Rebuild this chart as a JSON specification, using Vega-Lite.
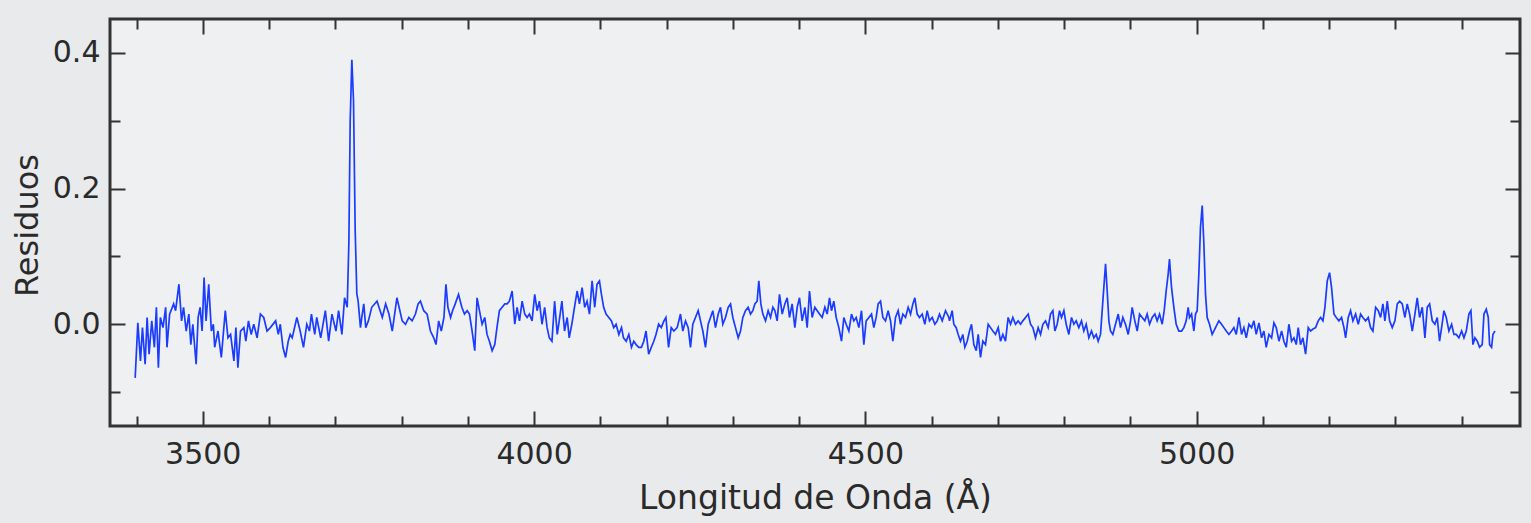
{
"$schema": "https://vega.github.io/schema/vega-lite/v6.json",
"width": 1410, "height": 407,
"autosize": {"type": "none"},
"padding": {"left": 110, "top": 19, "right": 11, "bottom": 97},
"background": "#e9eaec",
"config": {
  "view": {"fill": "#eff0f2", "stroke": "#333333", "strokeWidth": 3},
  "axis": {"grid": false, "domain": false, "labelFont": "DejaVu Sans", "titleFont": "DejaVu Sans", "labelColor": "#2a2a2a", "titleColor": "#2a2a2a", "tickColor": "#333333", "tickWidth": 2, "labelFlush": false, "labelOverlap": false}
},
"datasets": {
"a": [{"w": 4000, "r": 0}],
"s": [
{"w":3398,"r":-0.079},{"w":3402,"r":0.002},{"w":3406,"r":-0.054},{"w":3409,"r":-0.005},{"w":3413,"r":-0.059},{"w":3416,"r":0.010},{"w":3419,"r":-0.044},{"w":3423,"r":0.005},{"w":3427,"r":-0.034},{"w":3430,"r":0.025},{"w":3433,"r":-0.064},{"w":3436,"r":0.010},{"w":3440,"r":-0.005},{"w":3444,"r":0.025},{"w":3446,"r":-0.034},{"w":3450,"r":0.015},{"w":3456,"r":0.030},{"w":3459,"r":0.020},{"w":3464,"r":0.059},{"w":3468,"r":0.005},{"w":3471,"r":0.025},{"w":3475,"r":-0.010},{"w":3479,"r":0.015},{"w":3482,"r":-0.030},{"w":3485,"r":0.000},{"w":3490,"r":-0.059},{"w":3493,"r":0.010},{"w":3496,"r":0.025},{"w":3499,"r":-0.010},{"w":3502,"r":0.069},{"w":3505,"r":0.005},{"w":3509,"r":0.059},{"w":3513,"r":-0.010},{"w":3516,"r":0.000},{"w":3518,"r":-0.034},{"w":3523,"r":-0.010},{"w":3528,"r":-0.049},{"w":3534,"r":0.020},{"w":3538,"r":-0.020},{"w":3542,"r":-0.015},{"w":3547,"r":-0.054},{"w":3550,"r":-0.005},{"w":3553,"r":-0.064},{"w":3557,"r":-0.010},{"w":3562,"r":-0.005},{"w":3565,"r":-0.025},{"w":3569,"r":0.005},{"w":3573,"r":-0.015},{"w":3577,"r":0.000},{"w":3582,"r":-0.020},{"w":3587,"r":0.015},{"w":3592,"r":0.010},{"w":3597,"r":-0.010},{"w":3602,"r":-0.005},{"w":3610,"r":0.005},{"w":3614,"r":-0.015},{"w":3617,"r":0.000},{"w":3621,"r":-0.034},{"w":3625,"r":-0.049},{"w":3629,"r":-0.025},{"w":3632,"r":-0.015},{"w":3635,"r":-0.020},{"w":3642,"r":0.010},{"w":3647,"r":-0.010},{"w":3652,"r":-0.034},{"w":3657,"r":0.000},{"w":3661,"r":-0.010},{"w":3664,"r":0.015},{"w":3669,"r":-0.015},{"w":3672,"r":0.010},{"w":3678,"r":-0.020},{"w":3685,"r":0.020},{"w":3690,"r":-0.025},{"w":3695,"r":0.015},{"w":3701,"r":-0.010},{"w":3705,"r":0.020},{"w":3710,"r":-0.015},{"w":3714,"r":0.039},{"w":3718,"r":0.025},{"w":3720.5,"r":0.12},{"w":3722.5,"r":0.30},{"w":3725,"r":0.39},{"w":3727.5,"r":0.33},{"w":3730,"r":0.14},{"w":3732.5,"r":0.045},{"w":3734.5,"r":0.034},{"w":3738,"r":-0.005},{"w":3740,"r":0.010},{"w":3743,"r":0.030},{"w":3746,"r":-0.005},{"w":3750,"r":0.005},{"w":3755,"r":0.025},{"w":3763,"r":0.034},{"w":3771,"r":0.010},{"w":3776,"r":0.030},{"w":3781,"r":0.015},{"w":3786,"r":-0.010},{"w":3793,"r":0.039},
{"w":3801,"r":0.005},{"w":3806,"r":0.000},{"w":3811,"r":0.010},{"w":3816,"r":0.005},{"w":3821,"r":0.015},{"w":3825,"r":0.030},{"w":3828.5,"r":0.034},{"w":3833.5,"r":0.020},{"w":3838.6,"r":0.015},{"w":3843.6,"r":-0.010},{"w":3848.6,"r":-0.020},{"w":3852,"r":-0.030},{"w":3856,"r":0.005},{"w":3860,"r":-0.010},{"w":3864,"r":0.010},{"w":3867,"r":0.059},{"w":3870,"r":0.025},{"w":3874,"r":0.010},{"w":3877,"r":0.020},{"w":3881,"r":0.030},{"w":3886,"r":0.044},{"w":3891,"r":0.025},{"w":3895,"r":0.015},{"w":3899,"r":0.020},{"w":3902.5,"r":0.015},{"w":3906.5,"r":-0.010},{"w":3910.5,"r":-0.039},{"w":3914,"r":0.039},{"w":3917.6,"r":0.020},{"w":3921.6,"r":0.000},{"w":3925.6,"r":0.010},{"w":3929,"r":-0.015},{"w":3932.6,"r":-0.025},{"w":3936.7,"r":-0.039},{"w":3940.7,"r":-0.030},{"w":3944,"r":-0.005},{"w":3947.7,"r":0.020},{"w":3951.8,"r":0.025},{"w":3955.8,"r":0.030},{"w":3959.3,"r":0.030},{"w":3962.8,"r":0.034},{"w":3966.9,"r":0.049},{"w":3970.9,"r":0.000},{"w":3974.4,"r":0.025},{"w":3978,"r":0.005},{"w":3982,"r":0.034},{"w":3986,"r":0.015},{"w":3989.5,"r":0.010},{"w":3993,"r":0.015},{"w":3997,"r":0.005},{"w":4001,"r":0.044},{"w":4004.6,"r":0.020},{"w":4008,"r":0.034},{"w":4012,"r":0.000},{"w":4016,"r":0.025},{"w":4019.7,"r":-0.005},{"w":4023,"r":-0.020},{"w":4027,"r":-0.025},{"w":4031,"r":0.034},{"w":4035,"r":-0.015},{"w":4038,"r":0.005},{"w":4042,"r":0.034},{"w":4046,"r":-0.010},{"w":4050,"r":0.010},{"w":4053,"r":-0.020},{"w":4057,"r":0.000},{"w":4061,"r":0.025},{"w":4065,"r":0.049},{"w":4068.5,"r":0.030},{"w":4072.5,"r":0.054},{"w":4076.5,"r":0.025},{"w":4080,"r":0.034},{"w":4083.6,"r":0.015},{"w":4087.6,"r":0.064},{"w":4091.6,"r":0.025},{"w":4095,"r":0.059},{"w":4098.7,"r":0.064},{"w":4101.7,"r":0.044},{"w":4105,"r":0.025},{"w":4108.7,"r":0.015},{"w":4112.8,"r":0.010},{"w":4116.8,"r":0.005},{"w":4120.3,"r":-0.005},{"w":4123.8,"r":0.000},{"w":4128,"r":-0.015},{"w":4132,"r":-0.005},{"w":4135,"r":-0.020},{"w":4139,"r":-0.025},{"w":4143,"r":-0.015},{"w":4147,"r":-0.034},{"w":4150.5,"r":-0.025},{"w":4154,"r":-0.030},{"w":4158,"r":-0.034},{"w":4162,"r":-0.034},{"w":4165.6,"r":-0.025},{"w":4169,"r":-0.010},{"w":4173,"r":-0.044},{"w":4177,"r":-0.034},{"w":4180.7,"r":-0.025},{"w":4184,"r":-0.015},{"w":4188,"r":0.000},{"w":4192,"r":-0.005},{"w":4196,"r":0.005},{"w":4199,"r":0.010},{"w":4203,"r":-0.034},{"w":4207,"r":-0.005},{"w":4211,"r":-0.010},{"w":4216,"r":-0.005},
{"w":4221,"r":0.015},{"w":4224.5,"r":-0.010},{"w":4228.6,"r":0.005},{"w":4232.6,"r":-0.005},{"w":4236.1,"r":-0.034},{"w":4239.6,"r":0.000},{"w":4243.6,"r":0.010},{"w":4247.7,"r":0.020},{"w":4251.2,"r":0.005},{"w":4254.7,"r":-0.010},{"w":4258.7,"r":-0.034},{"w":4262.8,"r":0.000},{"w":4266.3,"r":0.010},{"w":4269.8,"r":0.020},{"w":4273.8,"r":-0.005},{"w":4277.9,"r":0.015},{"w":4281.4,"r":0.025},{"w":4284.9,"r":0.000},{"w":4288.9,"r":0.010},{"w":4293,"r":0.025},{"w":4296.5,"r":0.030},{"w":4300,"r":0.010},{"w":4304,"r":-0.005},{"w":4308.1,"r":-0.020},{"w":4311.6,"r":-0.010},{"w":4315.1,"r":0.010},{"w":4319.1,"r":0.020},{"w":4323.1,"r":0.025},{"w":4326.7,"r":0.015},{"w":4330.2,"r":0.020},{"w":4333.2,"r":0.030},{"w":4336.7,"r":0.034},{"w":4339.2,"r":0.064},{"w":4342.3,"r":0.030},{"w":4345.3,"r":0.015},{"w":4349.3,"r":0.005},{"w":4353.3,"r":0.020},{"w":4356.9,"r":0.010},{"w":4360.4,"r":0.025},{"w":4363.4,"r":0.020},{"w":4366.9,"r":0.005},{"w":4370.4,"r":0.044},{"w":4374.5,"r":0.015},{"w":4378.5,"r":0.030},{"w":4382,"r":0.039},{"w":4385.5,"r":0.010},{"w":4389.5,"r":0.030},{"w":4393.6,"r":-0.005},{"w":4397.1,"r":0.025},{"w":4400.6,"r":0.039},{"w":4404.6,"r":0.005},{"w":4408.7,"r":0.025},{"w":4412.2,"r":-0.005},{"w":4415.7,"r":0.049},{"w":4419.7,"r":0.010},{"w":4423.8,"r":0.025},{"w":4427.3,"r":0.020},{"w":4430.8,"r":0.015},{"w":4434.8,"r":0.010},{"w":4438.9,"r":0.025},{"w":4442.4,"r":0.015},{"w":4445.9,"r":0.039},{"w":4448.9,"r":0.020},{"w":4452.4,"r":0.034},{"w":4456,"r":0.010},{"w":4460,"r":-0.005},{"w":4464,"r":-0.025},{"w":4467.5,"r":0.010},{"w":4471,"r":0.000},{"w":4475.1,"r":-0.010},{"w":4479.1,"r":0.015},{"w":4482.6,"r":0.005},{"w":4486.1,"r":0.010},{"w":4490.2,"r":-0.005},{"w":4494.2,"r":0.020},{"w":4497.7,"r":-0.030},{"w":4501.2,"r":0.005},{"w":4505.3,"r":0.010},{"w":4509.3,"r":0.015},{"w":4512.8,"r":-0.005},{"w":4516.3,"r":0.010},{"w":4519.3,"r":0.030},{"w":4522.9,"r":0.034},{"w":4526.4,"r":0.010},{"w":4530.4,"r":0.005},{"w":4534.4,"r":0.020},{"w":4538,"r":0.005},{"w":4541.5,"r":-0.025},{"w":4545.5,"r":0.010},{"w":4549.5,"r":0.020},{"w":4553.1,"r":0.000},{"w":4556.6,"r":0.015},{"w":4560.6,"r":0.010},{"w":4564.6,"r":0.025},{"w":4568.2,"r":0.015},{"w":4571.7,"r":0.030},{"w":4574.7,"r":0.039},{"w":4578.2,"r":0.015},{"w":4581.7,"r":0.010},{"w":4585.8,"r":0.015},{"w":4589.8,"r":0.000},{"w":4593.3,"r":0.020},{"w":4596.8,"r":0.005},{"w":4600.9,"r":0.010},{"w":4604.9,"r":0.000},{"w":4608.4,"r":0.005},{"w":4611.9,"r":0.015},{"w":4616,"r":0.005},{"w":4621,"r":0.020},{"w":4626,"r":0.010},
{"w":4627,"r":0.005},{"w":4631,"r":0.020},{"w":4633.5,"r":0.000},{"w":4637.1,"r":-0.005},{"w":4640.1,"r":-0.015},{"w":4643.6,"r":-0.025},{"w":4647.1,"r":-0.015},{"w":4650.1,"r":-0.034},{"w":4653.7,"r":-0.025},{"w":4657.2,"r":-0.010},{"w":4660.2,"r":0.000},{"w":4663.7,"r":-0.030},{"w":4667.3,"r":-0.039},{"w":4670.3,"r":-0.015},{"w":4673.8,"r":-0.049},{"w":4677.3,"r":-0.025},{"w":4681.3,"r":-0.030},{"w":4685.4,"r":0.000},{"w":4688.9,"r":-0.005},{"w":4692.4,"r":-0.010},{"w":4696.4,"r":-0.015},{"w":4700.5,"r":-0.005},{"w":4704,"r":-0.025},{"w":4707.5,"r":-0.015},{"w":4711.5,"r":-0.025},{"w":4715.5,"r":0.010},{"w":4719.1,"r":0.000},{"w":4722.6,"r":0.010},{"w":4726.6,"r":0.000},{"w":4730.6,"r":0.005},{"w":4734.2,"r":0.000},{"w":4737.7,"r":0.005},{"w":4741.7,"r":0.010},{"w":4745.7,"r":0.015},{"w":4749.3,"r":0.000},{"w":4752.8,"r":-0.005},{"w":4756.8,"r":-0.020},{"w":4760.8,"r":-0.005},{"w":4764.4,"r":-0.015},{"w":4767.9,"r":0.000},{"w":4771.9,"r":0.005},{"w":4775.9,"r":-0.005},{"w":4779.4,"r":0.015},{"w":4783,"r":0.020},{"w":4786,"r":-0.010},{"w":4789.5,"r":0.000},{"w":4793,"r":0.020},{"w":4796,"r":0.010},{"w":4799.6,"r":0.020},{"w":4803.1,"r":0.000},{"w":4807.1,"r":-0.015},{"w":4811.1,"r":0.010},{"w":4814.7,"r":0.000},{"w":4818.2,"r":0.005},{"w":4822.2,"r":-0.005},{"w":4826.2,"r":0.005},{"w":4829.7,"r":-0.010},{"w":4833.3,"r":0.000},{"w":4837.3,"r":-0.020},{"w":4841.3,"r":-0.010},{"w":4844.8,"r":-0.020},{"w":4848.4,"r":-0.015},{"w":4851.4,"r":-0.025},{"w":4854.9,"r":-0.015},{"w":4857.4,"r":0.020},{"w":4859.9,"r":0.054},{"w":4862.5,"r":0.089},{"w":4865,"r":0.049},{"w":4867.5,"r":0.005},{"w":4870,"r":-0.010},{"w":4873.5,"r":-0.015},{"w":4877.5,"r":0.000},{"w":4881.6,"r":0.015},{"w":4885.1,"r":-0.005},{"w":4888.6,"r":0.010},{"w":4892.6,"r":0.000},{"w":4896.7,"r":-0.015},{"w":4900.2,"r":0.005},{"w":4902.7,"r":0.025},{"w":4906.7,"r":0.005},{"w":4910.3,"r":-0.010},{"w":4913.8,"r":0.015},{"w":4917.8,"r":0.010},{"w":4921.8,"r":0.005},{"w":4925.3,"r":0.015},{"w":4928.9,"r":0.000},{"w":4932.9,"r":0.010},{"w":4936.9,"r":0.015},{"w":4940.4,"r":0.005},{"w":4944,"r":0.015},{"w":4948,"r":0.000},{"w":4951,"r":0.020},{"w":4954,"r":0.049},{"w":4957,"r":0.074},{"w":4959,"r":0.096},{"w":4962.1,"r":0.054},{"w":4965.6,"r":0.025},{"w":4969.1,"r":0.000},{"w":4973.1,"r":-0.010},{"w":4977.2,"r":-0.010},{"w":4980.7,"r":-0.005},{"w":4984.2,"r":0.005},{"w":4987.2,"r":0.025},{"w":4989.2,"r":0.010},{"w":4992.3,"r":0.015},{"w":4995.8,"r":-0.010},{"w":4998.3,"r":0.015},{"w":5000.8,"r":0.020},{"w":5003.3,"r":0.074},{"w":5005.8,"r":0.143},{"w":5008.4,"r":0.175},{"w":5010.9,"r":0.118},{"w":5013.4,"r":0.044},{"w":5015.9,"r":0.010},{"w":5019.4,"r":0.000},{"w":5023.4,"r":-0.015},{"w":5028.5,"r":-0.005},{"w":5033.5,"r":0.005},
{"w":5037.6,"r":0.000},{"w":5041.1,"r":-0.005},{"w":5044.7,"r":-0.010},{"w":5048.7,"r":-0.015},{"w":5052.7,"r":-0.010},{"w":5056.2,"r":-0.005},{"w":5059.8,"r":-0.015},{"w":5063.8,"r":0.010},{"w":5067.8,"r":-0.015},{"w":5071.3,"r":-0.005},{"w":5074.9,"r":-0.020},{"w":5078.9,"r":0.000},{"w":5082.9,"r":-0.005},{"w":5086.4,"r":0.005},{"w":5089.9,"r":-0.015},{"w":5094,"r":0.002},{"w":5098,"r":-0.020},{"w":5101.5,"r":-0.010},{"w":5105,"r":-0.034},{"w":5109.1,"r":-0.015},{"w":5113.1,"r":-0.020},{"w":5116.6,"r":0.002},{"w":5120.1,"r":-0.005},{"w":5124.2,"r":-0.025},{"w":5128.2,"r":-0.010},{"w":5131.7,"r":-0.025},{"w":5135.2,"r":-0.034},{"w":5139.2,"r":0.000},{"w":5143.3,"r":-0.025},{"w":5146.8,"r":-0.020},{"w":5150.3,"r":-0.030},{"w":5153.3,"r":-0.005},{"w":5156.8,"r":-0.030},{"w":5160.4,"r":-0.020},{"w":5164.4,"r":-0.044},{"w":5168.4,"r":-0.005},{"w":5172,"r":-0.010},{"w":5175.5,"r":-0.007},{"w":5179.5,"r":-0.005},{"w":5183.5,"r":0.005},{"w":5187,"r":0.010},{"w":5190.6,"r":0.005},{"w":5193.6,"r":0.025},{"w":5197.1,"r":0.064},{"w":5200.6,"r":0.076},{"w":5203.6,"r":0.054},{"w":5207.2,"r":0.015},{"w":5210.7,"r":0.010},{"w":5214.7,"r":0.005},{"w":5218.7,"r":0.010},{"w":5222.3,"r":-0.005},{"w":5224.8,"r":-0.020},{"w":5228.8,"r":0.010},{"w":5232.3,"r":0.020},{"w":5235.8,"r":0.005},{"w":5239.9,"r":0.015},{"w":5243.9,"r":0.000},{"w":5247.4,"r":0.015},{"w":5250.9,"r":0.010},{"w":5255,"r":0.005},{"w":5259,"r":0.010},{"w":5262.5,"r":-0.005},{"w":5266,"r":-0.010},{"w":5270.1,"r":0.025},{"w":5274.1,"r":0.020},{"w":5277.6,"r":0.010},{"w":5281.1,"r":0.030},{"w":5284.1,"r":0.005},{"w":5287.7,"r":0.034},{"w":5291.2,"r":0.005},{"w":5295.2,"r":-0.005},{"w":5299.2,"r":0.005},{"w":5302.8,"r":0.030},{"w":5306.3,"r":0.034},{"w":5310.3,"r":0.030},{"w":5314.3,"r":0.010},{"w":5317.8,"r":0.030},{"w":5321.4,"r":0.015},{"w":5325.4,"r":-0.010},{"w":5329.4,"r":0.015},{"w":5332.9,"r":0.039},{"w":5336.5,"r":0.010},{"w":5340.5,"r":0.025},{"w":5344.5,"r":-0.020},{"w":5348,"r":0.025},{"w":5351.6,"r":0.030},{"w":5355.6,"r":0.005},{"w":5359.6,"r":0.000},{"w":5363.1,"r":0.010},{"w":5366.6,"r":-0.025},{"w":5369.7,"r":-0.005},{"w":5373.2,"r":0.020},{"w":5376.7,"r":0.010},{"w":5380.7,"r":-0.010},{"w":5384.8,"r":0.000},{"w":5388.3,"r":-0.015},{"w":5391.8,"r":-0.015},{"w":5395.8,"r":-0.020},{"w":5399.9,"r":-0.010},{"w":5403.4,"r":-0.020},{"w":5406.9,"r":-0.010},{"w":5410.9,"r":0.015},{"w":5413.9,"r":0.020},{"w":5417,"r":-0.030},{"w":5420,"r":-0.020},{"w":5423.5,"r":-0.025},{"w":5427,"r":-0.034},{"w":5431,"r":-0.030},{"w":5433.6,"r":0.015},{"w":5437.1,"r":0.022},{"w":5440.1,"r":0.010},{"w":5442.1,"r":-0.030},{"w":5445.1,"r":-0.034},{"w":5447.2,"r":-0.015},{"w":5450.2,"r":-0.010}
]
},
"layer": [
{"data": {"name": "s"},
 "mark": {"type": "line", "color": "#1a3cff", "strokeWidth": 1.7, "clip": true},
 "encoding": {
  "x": {"field": "w", "type": "quantitative", "scale": {"domain": [3360, 5488], "nice": false, "zero": false},
        "axis": {"orient": "bottom", "values": [3500, 4000, 4500, 5000], "ticks": false, "labelPadding": 37, "labelBaseline": "alphabetic", "labelFontSize": 30, "format": "d", "title": "Longitud de Onda (Å)", "titleFontSize": 33, "titleFontWeight": "normal", "titleBaseline": "alphabetic", "titleY": 82, "titleX": 705}},
  "y": {"field": "r", "type": "quantitative", "scale": {"domain": [-0.15, 0.45], "nice": false, "zero": false},
        "axis": {"orient": "left", "values": [0, 0.2, 0.4], "ticks": false, "labelPadding": 10, "labelFontSize": 30, "format": ".1f", "title": "Residuos", "titleFontSize": 32, "titleFontWeight": "normal", "titleBaseline": "alphabetic", "titleAngle": -90, "titleX": -73, "titleY": 206}}
 }},
{"data": {"name": "a"},
 "mark": {"type": "point", "opacity": 0},
 "encoding": {
  "x": {"field": "w", "type": "quantitative", "scale": {"domain": [3360, 5488], "nice": false, "zero": false},
        "axis": {"orient": "bottom", "values": [3500, 4000, 4500, 5000], "labels": false, "tickSize": -15, "title": null}},
  "y": {"field": "r", "type": "quantitative", "scale": {"domain": [-0.15, 0.45], "nice": false, "zero": false},
        "axis": {"orient": "left", "values": [0, 0.2, 0.4], "labels": false, "tickSize": -15, "title": null}}
 }},
{"data": {"name": "a"},
 "mark": {"type": "point", "opacity": 0},
 "encoding": {
  "x": {"field": "w", "type": "quantitative", "scale": {"domain": [3360, 5488], "nice": false, "zero": false},
        "axis": {"orient": "bottom", "values": [3400, 3600, 3700, 3800, 3900, 4100, 4200, 4300, 4400, 4600, 4700, 4800, 4900, 5100, 5200, 5300, 5400], "labels": false, "tickSize": -10, "title": null}},
  "y": {"field": "r", "type": "quantitative", "scale": {"domain": [-0.15, 0.45], "nice": false, "zero": false},
        "axis": {"orient": "left", "values": [-0.1, 0.1, 0.3], "labels": false, "tickSize": -10, "title": null}}
 }},
{"data": {"name": "a"},
 "mark": {"type": "point", "opacity": 0},
 "encoding": {
  "x": {"field": "w", "type": "quantitative", "scale": {"domain": [3360, 5488], "nice": false, "zero": false},
        "axis": {"orient": "top", "values": [3500, 4000, 4500, 5000], "labels": false, "tickSize": -15, "title": null}},
  "y": {"field": "r", "type": "quantitative", "scale": {"domain": [-0.15, 0.45], "nice": false, "zero": false},
        "axis": {"orient": "right", "values": [0, 0.2, 0.4], "labels": false, "tickSize": -15, "title": null}}
 }},
{"data": {"name": "a"},
 "mark": {"type": "point", "opacity": 0},
 "encoding": {
  "x": {"field": "w", "type": "quantitative", "scale": {"domain": [3360, 5488], "nice": false, "zero": false},
        "axis": {"orient": "top", "values": [3400, 3600, 3700, 3800, 3900, 4100, 4200, 4300, 4400, 4600, 4700, 4800, 4900, 5100, 5200, 5300, 5400], "labels": false, "tickSize": -10, "title": null}},
  "y": {"field": "r", "type": "quantitative", "scale": {"domain": [-0.15, 0.45], "nice": false, "zero": false},
        "axis": {"orient": "right", "values": [-0.1, 0.1, 0.3], "labels": false, "tickSize": -10, "title": null}}
 }}
],
"resolve": {"axis": {"x": "independent", "y": "independent"}}
}
